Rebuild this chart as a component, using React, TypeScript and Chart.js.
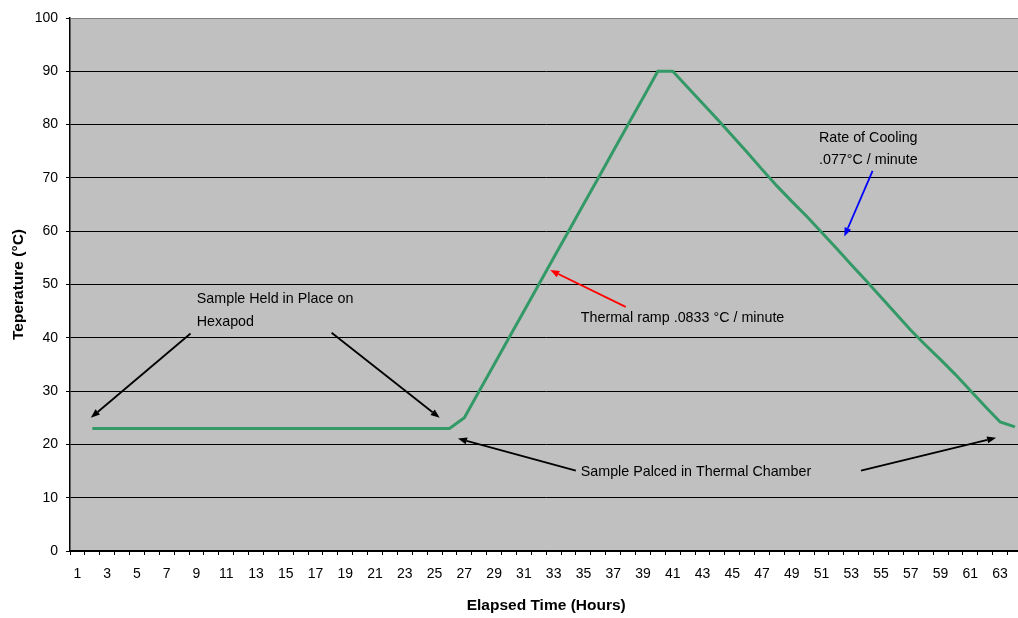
import React, { useEffect, useRef } from 'react';
import { Chart, registerables } from 'chart.js';

Chart.register(...registerables);

// Elapsed time categories (hours)
const hours: string[] = [
  '1', '2', '3', '4', '5', '6', '7', '8', '9', '10', '11', '12', '13', '14', '15', '16',
  '17', '18', '19', '20', '21', '22', '23', '24', '25', '26', '27', '28', '29', '30', '31', '32',
  '33', '34', '35', '36', '37', '38', '39', '40', '41', '42', '43', '44', '45', '46', '47', '48',
  '49', '50', '51', '52', '53', '54', '55', '56', '57', '58', '59', '60', '61', '62', '63', '64',
];

// Temperature (°C) per hour
const temperature: (number | null)[] = [
  null, 23, 23, 23, 23, 23, 23, 23, 23, 23, 23, 23, 23, 23, 23, 23,
  23, 23, 23, 23, 23, 23, 23, 23, 23, 23, 25, 30, 35, 40, 45, 50,
  55, 60, 65, 70, 75, 80, 85, 90, 90, 87, 84, 81, 77.9, 74.8, 71.6, 68.5,
  65.6, 62.8, 59.8, 56.8, 53.7, 50.7, 47.6, 44.5, 41.4, 38.6, 35.9, 33.1, 30.1, 27.1, 24.2, 23.3,
];

const yTicks = [0, 10, 20, 30, 40, 50, 60, 70, 80, 90, 100];

// Annotation texts, anchored in data units (hour, °C)
const noteTexts = [
  { text: 'Sample Held in Place on', hour: 9.02, temp: 47.3 },
  { text: 'Hexapod', hour: 9.02, temp: 43.0 },
  { text: 'Thermal ramp .0833 °C / minute', hour: 34.82, temp: 43.65 },
  { text: 'Rate of Cooling', hour: 50.83, temp: 77.5 },
  { text: '.077°C / minute', hour: 50.83, temp: 73.4 },
  { text: 'Sample Palced in Thermal Chamber', hour: 34.82, temp: 14.9 },
];

// Arrows, in data units (hour, °C), from tail to head
const noteArrows = [
  { x1: 8.6, y1: 40.8, x2: 1.9, y2: 25.0, color: '#000000' },
  { x1: 18.08, y1: 40.96, x2: 25.34, y2: 25.0, color: '#000000' },
  { x1: 37.84, y1: 45.8, x2: 32.77, y2: 52.7, color: '#ff0000' },
  { x1: 54.43, y1: 71.3, x2: 52.53, y2: 59.0, color: '#0000ff' },
  { x1: 34.49, y1: 15.07, x2: 26.57, y2: 21.1, color: '#000000' },
  { x1: 53.65, y1: 15.07, x2: 62.73, y2: 21.26, color: '#000000' },
];

const FONT = "'Liberation Sans', Arial, sans-serif";

const notesPlugin = {
  id: 'notesPlugin',
  beforeDraw(chart: any) {
    const { ctx, chartArea } = chart;
    ctx.save();
    ctx.fillStyle = '#c0c0c0';
    ctx.fillRect(chartArea.left, chartArea.top, chartArea.right - chartArea.left, chartArea.bottom - chartArea.top);
    ctx.restore();
  },
  afterDraw(chart: any) {
    const { ctx, chartArea } = chart;
    const xs = chart.scales.x;
    const ys = chart.scales.y;
    const px = (h: number) => xs.getPixelForValue(h - 1);
    const py = (t: number) => ys.getPixelForValue(t);
    ctx.save();
    // top border
    ctx.strokeStyle = '#808080';
    ctx.lineWidth = 1;
    ctx.beginPath();
    ctx.moveTo(chartArea.left, chartArea.top + 0.5);
    ctx.lineTo(chartArea.right, chartArea.top + 0.5);
    ctx.stroke();

    for (const a of noteArrows) {
      const x1 = px(a.x1), y1 = py(a.y1), x2 = px(a.x2), y2 = py(a.y2);
      const ang = Math.atan2(y2 - y1, x2 - x1);
      const hl = 9, hw = 3.5;
      const bx = x2 - hl * Math.cos(ang), by = y2 - hl * Math.sin(ang);
      ctx.strokeStyle = a.color;
      ctx.fillStyle = a.color;
      ctx.lineWidth = 1.8;
      ctx.beginPath();
      ctx.moveTo(x1, y1);
      ctx.lineTo(bx, by);
      ctx.stroke();
      ctx.beginPath();
      ctx.moveTo(x2, y2);
      ctx.lineTo(bx + hw * Math.sin(ang), by - hw * Math.cos(ang));
      ctx.lineTo(bx - hw * Math.sin(ang), by + hw * Math.cos(ang));
      ctx.closePath();
      ctx.fill();
    }

    ctx.fillStyle = '#000000';
    ctx.font = `14.3px ${FONT}`;
    ctx.textAlign = 'left';
    ctx.textBaseline = 'middle';
    for (const n of noteTexts) {
      ctx.fillText(n.text, px(n.hour), py(n.temp));
    }
    ctx.restore();
  },
};

export default function App() {
  const ref = useRef<HTMLCanvasElement | null>(null);

  useEffect(() => {
    if (!ref.current) return;
    const chart = new Chart(ref.current, {
      type: 'line',
      data: {
        labels: hours,
        datasets: [
          {
            data: temperature,
            borderColor: '#339966',
            backgroundColor: '#339966',
            borderWidth: 3,
            pointRadius: 0,
            tension: 0,
            fill: false,
          },
        ],
      },
      options: {
        animation: false,
        responsive: false,
        devicePixelRatio: 1,
        layout: { padding: { top: 18, right: 1, left: 0, bottom: 0 } },
        plugins: {
          legend: { display: false },
          tooltip: { enabled: false },
        },
        scales: {
          x: {
            type: 'category',
            offset: true,
            afterFit: (s: any) => { s.height = 67; },
            grid: {
              offset: true,
              drawOnChartArea: false,
              drawTicks: true,
              tickLength: 4,
              color: '#000000',
              tickColor: '#000000',
            },
            border: { color: '#000000', width: 1.5 },
            ticks: {
              autoSkip: false,
              maxRotation: 0,
              minRotation: 0,
              padding: 11,
              color: '#000000',
              font: { family: FONT, size: 14 },
              callback: (_v: any, i: number) => (i % 2 === 0 ? hours[i] : ''),
            },
            title: {
              display: true,
              text: 'Elapsed Time (Hours)',
              color: '#000000',
              font: { family: FONT, size: 15.5, weight: 'bold' },
              padding: { top: 0, bottom: 3 },
            },
          },
          y: {
            min: 0,
            max: 100,
            afterFit: (s: any) => { s.width = 70; },
            afterBuildTicks: (s: any) => { s.ticks = yTicks.map((v) => ({ value: v })); },
            grid: {
              color: (c: any) => (c.tick && c.tick.value === 100 ? '#808080' : '#000000'),
              tickColor: '#000000',
              lineWidth: 1,
              tickLength: 4,
            },
            border: { color: '#000000', width: 1.5 },
            ticks: {
              padding: 8,
              color: '#000000',
              font: { family: FONT, size: 14 },
            },
            title: {
              display: true,
              text: 'Teperature (°C)',
              color: '#000000',
              font: { family: FONT, size: 15.5, weight: 'bold' },
              padding: { top: 9, bottom: 0 },
            },
          },
        },
      },
      plugins: [notesPlugin],
    } as any);
    return () => chart.destroy();
  }, []);

  return (
    <div style={{ position: 'fixed', left: 0, top: 0, width: 1018, height: 618, overflow: 'hidden', background: '#ffffff' }}>
      <canvas ref={ref} width={1026} height={618} style={{ display: 'block', width: 1026, height: 618 }} />
    </div>
  );
}
